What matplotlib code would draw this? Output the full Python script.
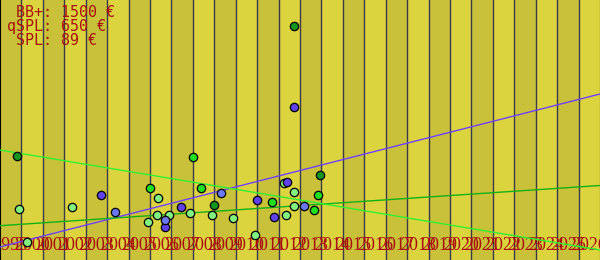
import numpy as np
import matplotlib
matplotlib.use("Agg")
import matplotlib.pyplot as plt

# x range in years, one band per year
year_start = 1998
year_end = 2026
years = np.arange(year_start, year_end)

# legend-ish text in the top left corner
info_lines = [" BB+: 1500 €", "qSPL: 650 €", " SPL: 89 €"]

# scatter points per colour group (year, value)
mint_x = [1998.9, 1999.27, 2001.37, 2005.39, 2005.34, 2005.9, 2006.88, 2007.91,
          2008.89, 2004.92, 2011.27, 2011.73, 2011.73, 2011.36, 2009.91]
mint_y = [50.7, 18.3, 52.7, 61.7, 44.7, 44.7, 47.0, 44.7,
          41.7, 37.7, 76.7, 67.7, 53.7, 44.7, 24.7]

bright_x = [2005.01, 2007.02, 2007.39, 2010.71, 2012.85, 2012.67]
bright_y = [71.7, 103.0, 71.7, 57.7, 64.7, 49.7]

dark_x = [1998.79, 2008.0, 2012.95, 2011.73]
dark_y = [104.0, 55.0, 84.7, 233.7]

violet_x = [2002.73, 2006.45, 2005.71, 2011.38, 2010.01, 2010.8, 2011.73]
violet_y = [64.7, 52.7, 32.7, 78.0, 59.7, 42.7, 152.7]

blue_x = [2003.38, 2008.33, 2005.71, 2012.2]
blue_y = [47.7, 66.7, 40.0, 53.7]

# trend lines, value at year_start and year_end
trend_x = [year_start, year_end]
bb_trend = [13.0, 166.0]
qspl_trend = [34.3, 74.5]
spl_trend = [110.0, 10.0]

band_dark = "#c9c139"
band_light = "#dcd43f"
text_red = "#a81010"

fig = plt.figure(figsize=(6, 2.6), dpi=100)
ax = fig.add_axes([0, 0, 1, 1])
ax.set_xlim(year_start, year_end)
ax.set_ylim(0, 260)

for i, y in enumerate(years):
    ax.axvspan(y, y + 1, color=band_dark if i % 2 == 0 else band_light, lw=0, zorder=0)
    if i > 0:
        ax.axvline(y, color="#3a3a4c", lw=1.0, zorder=1)

# year labels, centred in each band (they overlap, as in the original)
for y in years:
    ax.text(y + 0.5, 10, str(y + 1), ha="center", va="baseline", color=text_red,
            fontsize=13, family="Liberation Serif", zorder=2)

for i, line in enumerate(info_lines):
    fig.text(7 / 600, 1 - (17 + 14 * i) / 260, line, ha="left", va="baseline",
             color=text_red, fontsize=10.8, family="DejaVu Sans Mono")

ax.plot(trend_x, bb_trend, color="#7040ff", lw=1, zorder=3)
ax.plot(trend_x, qspl_trend, color="#14b014", lw=1, zorder=3)
ax.plot(trend_x, spl_trend, color="#30f030", lw=1, zorder=3)

dots = dict(s=36, edgecolors="black", linewidths=0.9, zorder=4)
ax.scatter(mint_x, mint_y, color="#80f080", **dots)
ax.scatter(bright_x, bright_y, color="#20e020", **dots)
ax.scatter(dark_x, dark_y, color="#14961e", **dots)
ax.scatter(violet_x, violet_y, color="#6040e8", **dots)
ax.scatter(blue_x, blue_y, color="#6a78f0", **dots)

ax.set_xticks([])
ax.set_yticks([])
for side in ["top", "bottom"]:
    ax.spines[side].set_visible(False)
ax.spines["left"].set_color("black")
ax.spines["right"].set_color("black")

fig.savefig("out.png", dpi=100)
